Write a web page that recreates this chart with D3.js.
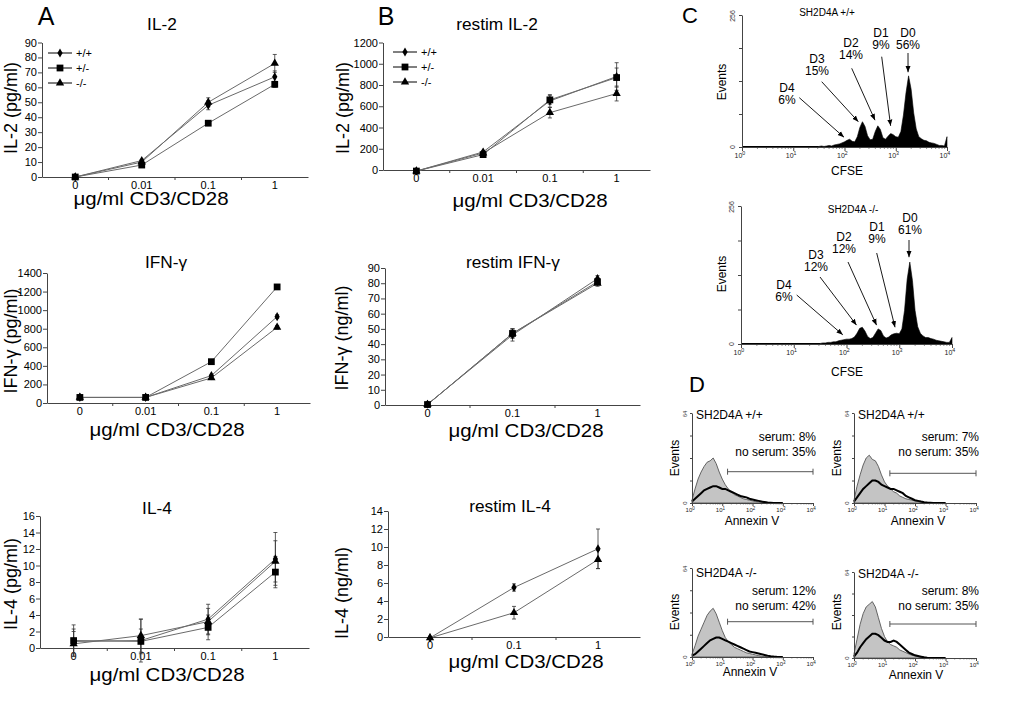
<!DOCTYPE html>
<html><head><meta charset="utf-8">
<script src="https://cdn.jsdelivr.net/npm/d3@7"></script>
<style>
body{margin:0;background:#fff}
svg{font-family:"Liberation Sans",Arial,Helvetica,sans-serif}
</style>
</head><body>
<svg id="c" width="1010" height="709"></svg>
<script>
// ---------------- DATA ----------------
const doses4 = ["0", "0.01", "0.1", "1"];
const doses3 = ["0", "0.1", "1"];
const genotypes = ["+/+", "+/-", "-/-"];

// Panel A: primary stimulation
const aIL2_wt = [0, 11, 48, 67], aIL2_wtErr = [0.5, 1, 3, 4];
const aIL2_het = [0, 8, 36, 62], aIL2_hetErr = [0.5, 1, 1, 2];
const aIL2_ko = [0, 10, 50, 76], aIL2_koErr = [0.5, 1.5, 3, 6];

const aIFN_wt = [60, 60, 295, 930], aIFN_wtErr = [5, 5, 15, 20];
const aIFN_het = [60, 60, 445, 1250], aIFN_hetErr = [5, 5, 15, 20];
const aIFN_ko = [60, 60, 270, 815], aIFN_koErr = [5, 5, 15, 20];

const aIL4_wt = [0.8, 0.9, 3.5, 10.8], aIL4_wtErr = [1.5, 2.6, 1.8, 3.2];
const aIL4_het = [0.9, 0.8, 2.5, 9.2], aIL4_hetErr = [1.9, 1.5, 1.5, 1.9];
const aIL4_ko = [0.5, 1.5, 3.2, 10.5], aIL4_koErr = [1.5, 2.0, 1.6, 2.5];

// Panel B: restimulation
const bIL2_wt = [-10, 170, 650, 880], bIL2_wtErr = [5, 15, 60, 130];
const bIL2_het = [-10, 145, 660, 870], bIL2_hetErr = [5, 10, 40, 90];
const bIL2_ko = [-10, 160, 540, 720], bIL2_koErr = [5, 15, 50, 70];

const bIFN_wt = [0.5, 46, 83], bIFN_wtErr = [0.5, 4, 2];
const bIFN_het = [0.3, 47, 81], bIFN_hetErr = [0.5, 3, 2];
const bIFN_ko = [0.3, 47, 80], bIFN_koErr = [0.5, 3, 2];

const bIL4_wt = [-0.1, 5.5, 9.8], bIL4_wtErr = [0.1, 0.4, 2.2];
const bIL4_ko = [-0.1, 2.7, 8.6], bIL4_koErr = [0.1, 0.7, 1.0];

// Panel C: CFSE histograms (counts per 0.05-decade bin, from 10^1.5 to 10^4)
const cfseBinStart = 1.5, cfseBinStep = 0.05;
const cfseWT = [1,2,1,2,3,2,4,5,6,8,10,13,15,11,10,20,38,49,40,22,14,15,30,41,34,18,15,21,26,24,20,19,30,62,105,138,112,66,35,20,16,13,12,9,8,7,5,3,3,2,20];
const cfseKO = [1,2,2,3,3,4,4,6,7,8,9,9,10,13,20,29,31,24,14,10,12,20,28,25,15,11,13,17,19,20,19,28,62,120,152,118,62,32,20,15,12,12,10,9,7,6,5,4,3,3,12];
const cfseWTLabels = [
  {d:"D0", pct:"56%"}, {d:"D1", pct:"9%"}, {d:"D2", pct:"14%"}, {d:"D3", pct:"15%"}, {d:"D4", pct:"6%"}];
const cfseKOLabels = [
  {d:"D0", pct:"61%"}, {d:"D1", pct:"9%"}, {d:"D2", pct:"12%"}, {d:"D3", pct:"12%"}, {d:"D4", pct:"6%"}];
// arrow tips (log10 CFSE, events)
const cfseWTTips = [[3.24,145],[2.90,41],[2.595,52],[2.27,49],[1.99,19]];
const cfseKOTips = [[3.185,161],[2.92,31],[2.57,35],[2.19,35],[1.93,17]];

// Panel D: Annexin V histograms (counts per 0.1-decade bin, 10^0 .. 10^3)
const annBinStart = 0, annBinStep = 0.1;
const annTL_serum  = [2,10,17,22,26,29,30,32,28,22,17,13,10,8,6,5,4,3,2.5,2,1.5,1,0.8,0.5,0.3,0.2,0,0,0,0,0];
const annTL_noser  = [1,3,5,7,9,10,11,12,12,11,10,10,9,8,7,6,5,4.5,4,3,2.5,2,1.5,1,0.7,0.4,0.2,0,0,0,0];
const annTR_serum  = [2,12,20,27,32,34,31,30,26,20,15,12,10,8,7,5,4,3,2.5,2,1.5,1,0.6,0.3,0.2,0,0,0,0,0,0];
const annTR_noser  = [1,4,7,10,12,14,16,16,15,13,12,11,10,10,9,8,7,5,4,3,2,1.5,1,0.6,0.3,0.2,0,0,0,0,0];
const annBL_serum  = [2,8,15,20,25,30,33,35,31,25,19,14,11,9,7,6,5,4,3,2.5,2,1.5,1,0.6,0.4,0.2,0,0,0,0,0];
const annBL_noser  = [1,2,4,6,8,10,12,13,14,14,13,12,11,10,9,8,7,6,5,4,3.5,3,2.5,2,1.5,1,0.6,0.3,0.1,0,0];
const annBR_serum  = [3,14,25,33,38,40,42,38,30,22,16,12,10,9,8,6,5,4,3,2,1.5,1,0.5,0.3,0,0,0,0,0,0,0];
const annBR_noser  = [1,4,8,11,14,16,18,18,17,15,13,12,12,13,12,10,8,6,4,3,2,1.5,1,0.5,0.2,0,0,0,0,0,0];
const annTitles = ["SH2D4A +/+", "SH2D4A +/+", "SH2D4A -/-", "SH2D4A -/-"];
const annSerum = ["serum: 8%", "serum: 7%", "serum: 12%", "serum: 8%"];
const annNoSerum = ["no serum: 35%", "no serum: 35%", "no serum: 42%", "no serum: 35%"];

// ---------------- DRAWING ----------------
const svg = d3.select("#c");
const AX = "#444", LN = "#6a6a6a";
const symTypes = {diamond: d3.symbolDiamond, square: d3.symbolSquare, triangle: d3.symbolTriangle};
const symSize = {diamond: 24, square: 46, triangle: 30};

function txt(g, x, y, s, size, anchor, rot, sx) {
  const t = g.append("text").attr("font-size", size).attr("text-anchor", anchor || "middle").attr("fill", "#000");
  t.attr("transform", `translate(${x},${y})` + (rot ? ` rotate(${rot})` : "") + (sx ? ` scale(${sx},1)` : ""));
  t.text(s);
  return t;
}

function linePanel(p) {
  const g = svg.append("g");
  const x = d3.scaleBand().domain(p.cats).range(p.xr);
  const y = d3.scaleLinear().domain(p.yd).range(p.yr);
  const cx = c => x(c) + x.bandwidth() / 2;
  const ya = g.append("g").attr("transform", `translate(${p.xr[0]},0)`)
    .call(d3.axisLeft(y).tickValues(d3.range(p.yd[0], p.yd[1] + p.ystep / 2, p.ystep))
      .tickFormat(d3.format("d")).tickSize(4).tickSizeOuter(0).tickPadding(1));
  ya.selectAll("text").attr("font-size", 11).attr("fill", "#000");
  ya.selectAll("path,line").attr("stroke", AX);
  const xa = g.append("g").attr("transform", `translate(0,${y(0)})`)
    .call(d3.axisBottom(x).tickSize(0).tickSizeOuter(0).tickPadding(4));
  xa.selectAll("text").attr("font-size", 11).attr("fill", "#000");
  xa.selectAll("path").attr("stroke", AX);
  g.selectAll(".bt").data(p.cats.slice(1)).join("line")
    .attr("x1", c => x(c)).attr("x2", c => x(c)).attr("y1", y(0)).attr("y2", y(0) + 3).attr("stroke", AX);
  const line = d3.line().x((d, i) => cx(p.cats[i])).y(d => y(d));
  p.series.forEach(s => g.append("path").attr("d", line(s.vals)).attr("fill", "none").attr("stroke", LN).attr("stroke-width", 1));
  p.series.forEach(s => {
    s.vals.forEach((v, i) => {
      const e = s.err[i]; const xx = cx(p.cats[i]);
      if (Math.abs(y(v + e) - y(v)) < 1.5) return;
      g.append("line").attr("x1", xx).attr("x2", xx).attr("y1", y(v - e)).attr("y2", y(v + e)).attr("stroke", "#333").attr("stroke-width", 0.8);
      [v - e, v + e].forEach(w => g.append("line").attr("x1", xx - 2).attr("x2", xx + 2).attr("y1", y(w)).attr("y2", y(w)).attr("stroke", "#333").attr("stroke-width", 0.8));
    });
  });
  p.series.forEach(s => {
    g.selectAll(null).data(s.vals).join("path")
      .attr("d", d3.symbol(symTypes[s.sym], symSize[s.sym]))
      .attr("transform", (d, i) => `translate(${cx(p.cats[i])},${y(d)})`).attr("fill", "#000");
  });
  txt(g, p.tx, p.ty, p.title, 16, "middle", 0, 1.08);
  txt(g, p.ylx, p.yly, p.ylab, 18, "middle", -90);
  txt(g, p.xlx, p.xly, p.xlab, 17.5, "middle", 0, 1.17);
  if (p.legend) {
    p.series.forEach((s, i) => {
      const ly = p.legend.y + i * 15;
      g.append("line").attr("x1", p.legend.x).attr("x2", p.legend.x + 24).attr("y1", ly).attr("y2", ly).attr("stroke", "#000");
      g.append("path").attr("d", d3.symbol(symTypes[s.sym], symSize[s.sym])).attr("transform", `translate(${p.legend.x + 12},${ly})`);
      txt(g, p.legend.x + 28, ly + 4, genotypes[i], 11, "start");
    });
  }
}

const xl = "\u03bcg/ml CD3/CD28";
linePanel({cats: doses4, xr: [42, 308], yd: [0, 90], yr: [177, 42.5], ystep: 10, title: "IL-2", tx: 162, ty: 30,
  ylab: "IL-2 (pg/ml)", ylx: 17, yly: 108, xlab: xl, xlx: 151, xly: 205, legend: {x: 48, y: 53},
  series: [{sym: "diamond", vals: aIL2_wt, err: aIL2_wtErr}, {sym: "square", vals: aIL2_het, err: aIL2_hetErr}, {sym: "triangle", vals: aIL2_ko, err: aIL2_koErr}]});
linePanel({cats: doses4, xr: [47, 310], yd: [0, 1400], yr: [403, 273], ystep: 200, title: "IFN-\u03b3", tx: 166, ty: 268,
  ylab: "IFN-\u03b3 (pg/ml)", ylx: 17, yly: 341, xlab: xl, xlx: 167, xly: 436,
  series: [{sym: "diamond", vals: aIFN_wt, err: aIFN_wtErr}, {sym: "square", vals: aIFN_het, err: aIFN_hetErr}, {sym: "triangle", vals: aIFN_ko, err: aIFN_koErr}]});
linePanel({cats: doses4, xr: [40, 309], yd: [0, 16], yr: [648, 516], ystep: 2, title: "IL-4", tx: 157, ty: 514,
  ylab: "IL-4 (pg/ml)", ylx: 17, yly: 584, xlab: xl, xlx: 167, xly: 681,
  series: [{sym: "diamond", vals: aIL4_wt, err: aIL4_wtErr}, {sym: "square", vals: aIL4_het, err: aIL4_hetErr}, {sym: "triangle", vals: aIL4_ko, err: aIL4_koErr}]});
linePanel({cats: doses4, xr: [383, 650], yd: [0, 1200], yr: [170, 42.5], ystep: 200, title: "restim IL-2", tx: 497, ty: 30,
  ylab: "IL-2 (pg/ml)", ylx: 349, yly: 108, xlab: xl, xlx: 530, xly: 207, legend: {x: 393, y: 52},
  series: [{sym: "diamond", vals: bIL2_wt, err: bIL2_wtErr}, {sym: "square", vals: bIL2_het, err: bIL2_hetErr}, {sym: "triangle", vals: bIL2_ko, err: bIL2_koErr}]});
linePanel({cats: doses3, xr: [385, 640], yd: [0, 90], yr: [405, 268], ystep: 10, title: "restim IFN-\u03b3", tx: 513, ty: 268,
  ylab: "IFN-\u03b3 (ng/ml)", ylx: 348, yly: 338, xlab: xl, xlx: 526, xly: 437,
  series: [{sym: "diamond", vals: bIFN_wt, err: bIFN_wtErr}, {sym: "square", vals: bIFN_het, err: bIFN_hetErr}, {sym: "triangle", vals: bIFN_ko, err: bIFN_koErr}]});
linePanel({cats: doses3, xr: [388, 640], yd: [0, 14], yr: [637, 511], ystep: 2, title: "restim IL-4", tx: 510, ty: 512,
  ylab: "IL-4 (ng/ml)", ylx: 348, yly: 593, xlab: xl, xlx: 526, xly: 668,
  series: [{sym: "diamond", vals: bIL4_wt, err: bIL4_wtErr}, {sym: "triangle", vals: bIL4_ko, err: bIL4_koErr}]});

// Panel letters
txt(svg, 46, 25, "A", 25);
txt(svg, 386, 25, "B", 25);
txt(svg, 690, 23, "C", 22);
txt(svg, 697, 392, "D", 22);

// arrow marker
svg.append("defs").append("marker").attr("id", "arr").attr("viewBox", "0 0 10 10").attr("refX", 10).attr("refY", 5)
  .attr("markerWidth", 7).attr("markerHeight", 7).attr("orient", "auto-start-reverse")
  .append("path").attr("d", "M0,1 L10,5 L0,9 z").attr("fill", "#000");

function logAxis(g, x, y0, labelY, fs, majLen, minLen) {
  const major = [1, 10, 100, 1000, 10000];
  const minor = [];
  [1, 10, 100, 1000].forEach(b => [2,3,4,5,6,7,8,9].forEach(m => minor.push(b * m)));
  const ax = g.append("g").attr("transform", `translate(0,${y0})`)
    .call(d3.axisBottom(x).tickValues(major).tickSize(majLen).tickSizeOuter(0).tickFormat(""));
  ax.selectAll("path,line").attr("stroke", AX);
  g.selectAll(null).data(minor).join("line").attr("x1", d => x(d)).attr("x2", d => x(d))
    .attr("y1", y0).attr("y2", y0 + minLen).attr("stroke", AX).attr("stroke-width", 0.6);
  major.forEach((m, i) => {
    const t = g.append("text").attr("x", x(m) - fs * 0.3).attr("y", labelY).attr("font-size", fs).attr("text-anchor", "middle").attr("fill", "#222");
    t.append("tspan").text("10");
    t.append("tspan").attr("dy", -fs * 0.4).attr("font-size", fs * 0.75).text(String(i));
  });
}

function cfsePanel(p) {
  const g = svg.append("g");
  const x = d3.scaleLog().domain([1, 1e4]).range(p.xr);
  const y = d3.scaleLinear().domain([0, 256]).range(p.yr);
  const pts = p.counts.map((c, i) => [cfseBinStart + i * cfseBinStep, c]);
  const area = d3.area().x(d => x(Math.pow(10, d[0]))).y0(y(0)).y1(d => y(d[1]));
  g.append("path").attr("d", area(pts)).attr("fill", "#000").attr("stroke", "#000").attr("stroke-width", 0.6);
  g.append("line").attr("x1", x(1)).attr("x2", x(Math.pow(10, cfseBinStart))).attr("y1", y(0) - 0.5).attr("y2", y(0) - 0.5).attr("stroke", "#000");
  const ya = g.append("g").attr("transform", `translate(${p.xr[0]},0)`)
    .call(d3.axisLeft(y).tickValues([0, 64, 128, 192, 256]).tickSize(3).tickSizeOuter(0).tickFormat(""));
  ya.selectAll("path,line").attr("stroke", AX);
  txt(g, p.xr[0] - 7, y(256) + 1, "256", 7, "middle", -90).attr("fill", "#333");
  txt(g, p.xr[0] - 7, y(0), "0", 7, "middle", -90).attr("fill", "#333");
  logAxis(g, x, y(0), y(0) + 11, 7, 4, 2);
  txt(g, p.title[1], p.title[2], p.title[0], 10);
  txt(g, 726, p.evY, "Events", 12, "middle", -90);
  txt(g, 847, p.cfseY, "CFSE", 12);
  p.labels.forEach((l, i) => {
    const pos = p.textPos[i];
    txt(g, pos[0], pos[1], l.d, 12);
    txt(g, pos[0], pos[1] + 12, l.pct, 12);
    const tip = p.tips[i];
    g.append("line").attr("x1", pos[2]).attr("y1", pos[3]).attr("x2", x(Math.pow(10, tip[0]))).attr("y2", y(tip[1]))
      .attr("stroke", "#000").attr("stroke-width", 0.9).attr("marker-end", "url(#arr)");
  });
}

cfsePanel({xr: [742, 947], yr: [147, 15], counts: cfseWT, labels: cfseWTLabels, tips: cfseWTTips,
  title: ["SH2D4A +/+", 827, 16], evY: 82, cfseY: 175,
  textPos: [[908, 37, 908, 53], [881, 37, 881.7, 56.7], [851, 47, 851.7, 68.3], [817, 63, 821.7, 81.7], [787, 92, 799.3, 97.7]]});
cfsePanel({xr: [741, 952], yr: [344, 206], counts: cfseKO, labels: cfseKOLabels, tips: cfseKOTips,
  title: ["SH2D4A -/-", 853, 213], evY: 274, cfseY: 376,
  textPos: [[910, 222, 909, 240], [877, 231, 876.7, 253], [844, 241, 848, 262], [816, 259, 820, 277], [784, 289, 796.7, 295]]});

function annexPanel(p) {
  const g = svg.append("g");
  const x = d3.scaleLog().domain([1, 1e4]).range(p.xr);
  const y = d3.scaleLinear().domain([0, 64]).range(p.yr);
  const mk = arr => arr.map((c, i) => [annBinStart + i * annBinStep, c]);
  const area = d3.area().x(d => x(Math.pow(10, d[0]))).y0(y(0)).y1(d => y(d[1]));
  const line = d3.line().x(d => x(Math.pow(10, d[0]))).y(d => y(d[1]));
  g.append("path").attr("d", area(mk(p.serum))).attr("fill", "#c4c4c4").attr("stroke", "#555").attr("stroke-width", 0.9);
  g.append("path").attr("d", line(mk(p.noser))).attr("fill", "none").attr("stroke", "#000").attr("stroke-width", 2);
  const ya = g.append("g").attr("transform", `translate(${p.xr[0]},0)`)
    .call(d3.axisLeft(y).tickValues([0, 16, 32, 48, 64]).tickSize(2).tickSizeOuter(0).tickFormat(""));
  ya.selectAll("path,line").attr("stroke", AX);
  txt(g, p.xr[0] - 5, y(64) + 1, "64", 6, "middle", -90).attr("fill", "#333");
  txt(g, p.xr[0] - 5, y(0), "0", 6, "middle", -90).attr("fill", "#333");
  logAxis(g, x, y(0), y(0) + 9, 6, 3, 1.5);
  txt(g, p.xr[0] + 4, p.titleY, p.title, 12, "start");
  txt(g, p.xr[1] + 3, p.serY, p.serTxt, 12, "end");
  txt(g, p.xr[1] + 3, p.serY + 15, p.noTxt, 12, "end");
  const gx0 = x(p.gate), gx1 = p.xr[1];
  g.append("line").attr("x1", gx0).attr("x2", gx1).attr("y1", p.gateY).attr("y2", p.gateY).attr("stroke", "#555");
  [gx0, gx1].forEach(v => g.append("line").attr("x1", v).attr("x2", v).attr("y1", p.gateY - 3).attr("y2", p.gateY + 3).attr("stroke", "#555"));
  txt(g, p.annX, p.annY, "Annexin V", 12);
  txt(g, p.xr[0] - 13, p.evY, "Events", 12, "middle", -90);
}

annexPanel({xr: [692, 813], yr: [503, 413], serum: annTL_serum, noser: annTL_noser, title: annTitles[0], titleY: 419,
  serTxt: annSerum[0], noTxt: annNoSerum[0], serY: 441, gate: 15, gateY: 471.7, annX: 752, annY: 525, evY: 458});
annexPanel({xr: [854, 976], yr: [503, 413], serum: annTR_serum, noser: annTR_noser, title: annTitles[1], titleY: 419,
  serTxt: annSerum[1], noTxt: annNoSerum[1], serY: 441, gate: 15, gateY: 473.3, annX: 918, annY: 525, evY: 458});
annexPanel({xr: [692, 813], yr: [657, 568], serum: annBL_serum, noser: annBL_noser, title: annTitles[2], titleY: 577,
  serTxt: annSerum[2], noTxt: annNoSerum[2], serY: 595, gate: 15, gateY: 621.7, annX: 750, annY: 676, evY: 612});
annexPanel({xr: [854, 976], yr: [658, 572], serum: annBR_serum, noser: annBR_noser, title: annTitles[3], titleY: 578,
  serTxt: annSerum[3], noTxt: annNoSerum[3], serY: 595, gate: 15, gateY: 624, annX: 916, annY: 679, evY: 612});
</script>
</body></html>
